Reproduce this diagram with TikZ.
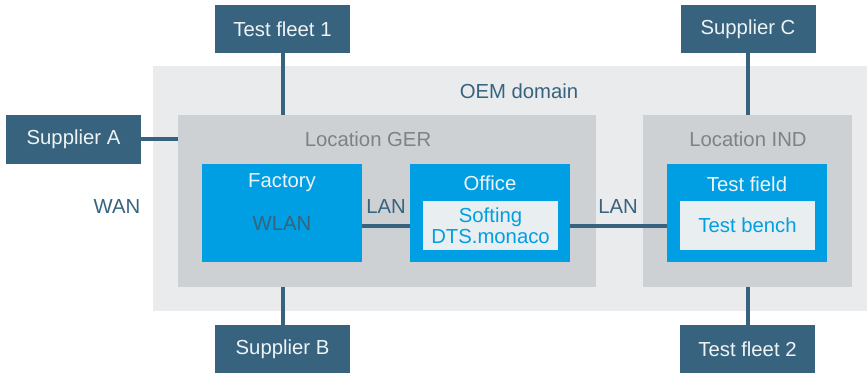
\documentclass[tikz,border=0pt]{standalone}
\usepackage{fontspec}
\setmainfont{Liberation Sans}
\definecolor{dblue}{HTML}{37637F}
\definecolor{cyanb}{HTML}{009FE3}
\definecolor{oemgray}{HTML}{E9EBED}
\definecolor{locgray}{HTML}{CDD1D4}
\definecolor{innerbg}{HTML}{E9EEF1}
\definecolor{loctext}{HTML}{7E8185}
\definecolor{wtext}{HTML}{EEF3F6}
\newcommand{\dfont}{\fontsize{20.3}{21}\selectfont}
\tikzset{
  ext/.style={fill=dblue, text=wtext, minimum width=135pt, minimum height=48pt, inner sep=0pt, font=\dfont},
  area/.style={inner sep=0pt},
  cbox/.style={fill=cyanb, minimum width=160pt, minimum height=98pt, inner sep=0pt},
  ibox/.style={fill=innerbg, text=cyanb, minimum width=135pt, minimum height=49pt, inner sep=0pt, font=\dfont, align=center},
  lbl/.style={inner sep=0pt, font=\dfont},
  link/.style={draw=dblue, line width=4pt}
}
\begin{document}
\begin{tikzpicture}[x=1pt,y=-1pt]
\useasboundingbox (0,0) rectangle (867,374);
% areas
\node[area, fill=oemgray, minimum width=714pt, minimum height=245pt] (oem) at (510,188.5) {};
\node[area, fill=locgray, minimum width=418pt, minimum height=172pt] (ger) at (387,201) {};
\node[area, fill=locgray, minimum width=209pt, minimum height=172pt] (ind) at (747.5,201) {};
% outer boxes
\node[ext] (tf1) at (282.5,29) {Test fleet 1};
\node[ext] (supc) at (748,29) {Supplier C};
\node[ext, minimum height=49pt] (supa) at (73.5,139.5) {Supplier A};
\node[ext] (supb) at (282.5,349) {Supplier B};
\node[ext] (tf2) at (747.5,349) {Test fleet 2};
% inner boxes
\node[cbox] (fac) at (282,213) {};
\node[cbox] (off) at (490,213) {};
\node[cbox] (tfield) at (747,213) {};
\node[ibox] (soft) at (490.5,225.5) {Softing\\DTS.monaco};
\node[ibox] (bench) at (747.5,225.5) {Test bench};
% labels
\node[lbl, text=dblue] (oeml) at (519,91) {OEM domain};
\node[lbl, text=loctext] (gerl) at (368,139) {Location GER};
\node[lbl, text=loctext] (indl) at (748,139) {Location IND};
\node[lbl, text=wtext] (facl) at (282,183) {Factory};
\node[lbl, text=dblue] (wlan) at (282,224) {WLAN};
\node[lbl, text=wtext] (offl) at (490,183) {Office};
\node[lbl, text=wtext] (tfl) at (747,184) {Test field};
\node[lbl, text=dblue] (lan1) at (386,207) {LAN};
\node[lbl, text=dblue] (lan2) at (618,207) {LAN};
\node[lbl, text=dblue] (wan) at (117,207) {WAN};
% connectors
\draw[link] (tf1.south) -- (tf1.south |- ger.north);
\draw[link] (supb.north) -- (supb.north |- ger.south);
\draw[link] (supc.south) -- (supc.south |- ind.north);
\draw[link] (tf2.north) -- (tf2.north |- ind.south);
\draw[link] (supa.east) -- (supa.east -| ger.west);
\draw[link] (fac.east |- soft.center) -- (off.west |- soft.center);
\draw[link] (off.east |- soft.center) -- (tfield.west |- soft.center);
\end{tikzpicture}
\end{document}
